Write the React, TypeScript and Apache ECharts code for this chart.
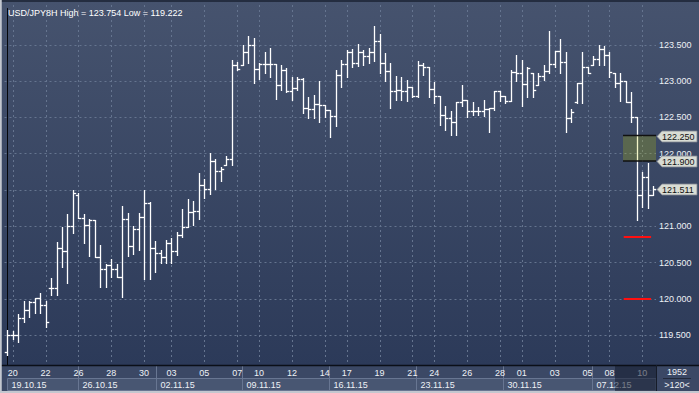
import React, { useEffect, useRef } from 'react';
import * as echarts from 'echarts';

// ---- data ----
const symbolName = 'USD/JPY8H';
const opens = [
  119.269, 119.503, 119.503, 119.733, 119.847, 119.961, 120.016, 119.916, 120.146, 120.146,
  120.697, 120.660, 121.004, 121.431, 121.110, 121.018, 121.087, 120.573, 120.416, 120.467,
  120.408, 120.306, 121.096, 120.729, 120.959, 121.124, 121.317, 120.697, 120.636, 120.581,
  120.766, 120.664, 120.880, 120.986, 121.193, 121.211, 121.569, 121.514, 121.899, 121.762,
  121.844, 121.927, 123.222, 123.222, 123.397, 123.497, 123.163, 123.240, 123.240, 123.240,
  122.942, 123.149, 122.864, 122.901, 123.025, 122.625, 122.612, 122.680, 122.667, 122.602,
  122.519, 123.080, 123.231, 123.401, 123.245, 123.405, 123.346, 123.405, 123.556, 123.253,
  123.139, 122.864, 122.877, 122.864, 122.915, 122.795, 123.222, 123.198, 122.891, 122.795,
  122.533, 122.488, 122.437, 122.716, 122.740, 122.588, 122.588, 122.588, 122.612, 122.625,
  122.864, 122.795, 122.730, 123.130, 123.116, 122.956, 123.107, 122.946, 123.070, 123.143,
  123.231, 123.415, 123.259, 122.488, 122.712, 122.978, 123.190, 123.222, 123.300, 123.438,
  123.359, 123.107, 122.967, 123.005, 122.708, 122.501, 121.431, 121.675, 121.431,
];
const highs = [
  119.572, 119.562, 119.792, 119.975, 119.975, 120.016, 120.085, 119.975, 120.284, 120.784,
  120.986, 121.165, 121.500, 121.455, 121.170, 121.096, 121.087, 120.738, 120.481, 120.545,
  120.481, 121.280, 121.187, 121.004, 121.179, 121.500, 121.335, 120.793, 120.674, 120.811,
  120.835, 120.926, 121.234, 121.380, 121.353, 121.730, 121.647, 122.014, 121.923, 121.813,
  121.972, 123.291, 123.267, 123.497, 123.621, 123.589, 123.253, 123.397, 123.452, 123.240,
  123.222, 123.176, 123.061, 123.061, 123.039, 122.785, 122.809, 123.001, 122.671, 122.602,
  123.153, 123.291, 123.428, 123.438, 123.511, 123.428, 123.452, 123.754, 123.649, 123.383,
  123.245, 123.070, 123.061, 123.015, 122.923, 123.277, 123.245, 123.198, 122.992, 122.795,
  122.657, 122.592, 122.716, 122.946, 122.740, 122.716, 122.639, 122.740, 122.634, 122.868,
  122.868, 122.795, 123.153, 123.359, 123.291, 123.198, 123.107, 123.107, 123.222, 123.690,
  123.415, 123.580, 123.405, 122.612, 122.978, 123.397, 123.198, 123.346, 123.497, 123.483,
  123.405, 123.107, 123.107, 123.005, 122.846, 122.501, 121.752, 121.876, 121.555,
];
const lows = [
  119.222, 119.443, 119.410, 119.686, 119.755, 119.810, 119.810, 119.617, 120.054, 120.054,
  120.443, 120.223, 120.904, 121.110, 120.774, 120.591, 120.573, 120.160, 120.168, 120.306,
  120.306, 120.022, 120.591, 120.618, 120.674, 120.270, 120.278, 120.375, 120.499, 120.499,
  120.499, 120.605, 120.857, 120.986, 121.018, 121.096, 121.394, 121.441, 121.514, 121.628,
  121.844, 121.844, 123.153, 123.222, 123.245, 122.978, 123.025, 123.107, 123.061, 122.749,
  122.877, 122.854, 122.740, 122.877, 122.565, 122.496, 122.488, 122.441, 122.510, 122.234,
  122.382, 122.923, 123.061, 123.190, 123.208, 123.222, 123.245, 123.281, 123.107, 123.005,
  122.625, 122.740, 122.740, 122.730, 122.781, 122.785, 123.084, 122.785, 122.694, 122.395,
  122.326, 122.258, 122.258, 122.657, 122.510, 122.533, 122.533, 122.519, 122.303, 122.602,
  122.730, 122.694, 122.730, 123.005, 122.657, 122.785, 122.777, 122.946, 123.015, 123.107,
  123.198, 123.107, 122.303, 122.441, 122.702, 122.702, 123.107, 123.222, 123.222, 123.222,
  123.056, 122.912, 122.726, 122.708, 122.441, 121.087, 121.270, 121.248, 121.431,
];
const closes = [
  119.503, 119.503, 119.733, 119.847, 119.961, 120.016, 119.916, 119.678, 120.146, 120.697,
  120.660, 121.004, 121.455, 121.110, 121.018, 121.087, 120.573, 120.416, 120.467, 120.408,
  120.306, 121.096, 120.729, 120.959, 121.124, 121.317, 120.697, 120.636, 120.581, 120.766,
  120.664, 120.880, 120.986, 121.193, 121.211, 121.569, 121.514, 121.899, 121.762, 121.789,
  121.927, 123.222, 123.163, 123.397, 123.497, 123.163, 123.240, 123.240, 123.240, 122.942,
  123.149, 122.864, 122.901, 123.025, 122.625, 122.612, 122.680, 122.667, 122.602, 122.519,
  123.080, 123.231, 123.401, 123.245, 123.405, 123.346, 123.405, 123.556, 123.253, 123.139,
  122.864, 122.877, 122.864, 122.915, 122.795, 123.222, 123.198, 122.891, 122.795, 122.533,
  122.488, 122.437, 122.716, 122.740, 122.588, 122.588, 122.588, 122.612, 122.625, 122.864,
  122.795, 122.730, 123.130, 123.116, 122.956, 123.185, 122.877, 123.070, 123.143, 123.231,
  123.415, 123.259, 122.488, 122.579, 122.978, 123.190, 123.116, 123.300, 123.438, 123.359,
  123.132, 122.967, 123.005, 122.708, 122.501, 121.431, 121.675, 121.431, 121.511,
];

// day ticks on the time axis (bar index -> day label)
const dayTickIndex = [1, 7, 13, 19, 25, 30, 36, 42, 46, 52, 58, 62, 68, 74, 78, 84, 90, 94, 100, 106, 110, 116];
const dayTickText = ['20', '22', '26', '28', '30', '03', '05', '07', '10', '12', '14', '17', '19', '21', '24', '26', '28', '01', '03', '05', '08', '10'];
// weeks (position on the bar axis where each week starts)
const weekStarts = [0, 12.9, 27.2, 42.9, 58.8, 74.7, 90.5, 106.8];
const weekLabels = ['19.10.15', '26.10.15', '02.11.15', '09.11.15', '16.11.15', '23.11.15', '30.11.15', '07.12.15'];
// price zone and levels
const zoneLevels = [122.25, 121.9];
const zoneStart = 112.5;
const redLevels = [120.85, 120.0];
const redSpan = [112.6, 117.6];
const sessionStart = 111;
const barCountText = '1952';
const rangeText = '>120<';
// price axis
const yMin = 119;
const yMax = 124;
const yStep = 0.5;

const FONT = '"Liberation Sans", Arial, sans-serif';
const TXT = '#eef1f6';
const GRIDC = '#65748f';
const BAR = '#ffffff';

export default function App() {
  const ref = useRef<HTMLDivElement>(null);
  useEffect(() => {
    const chart = echarts.init(ref.current!, null, { renderer: 'svg' });
    const n = opens.length;
    const ohlc = opens.map((o, i) => [i, o, highs[i], lows[i], closes[i]]);
    const hi = Math.max(...highs);
    const lo = Math.min(...lows);
    const last = closes[n - 1];
    const cats = Array.from({ length: n }, () => '');
    dayTickIndex.forEach((k, j) => { cats[k] = dayTickText[j]; });
    const tagLevels = [...zoneLevels, last];

    const option: any = {
      animation: false,
      textStyle: { fontFamily: FONT },
      backgroundColor: {
        type: 'linear', x: 0, y: 0, x2: 0, y2: 1,
        colorStops: [
          { offset: 0, color: '#46536e' },
          { offset: 0.93, color: '#2c3a59' },
          { offset: 1, color: '#2c3a59' },
        ],
      },
      title: {
        text: `${symbolName} High = ${hi.toFixed(3)} Low = ${lo.toFixed(3)}`,
        left: 3, top: 3,
        textStyle: { color: '#ffffff', fontSize: 9, fontWeight: 'normal', fontFamily: FONT },
      },
      grid: [
        { left: 4.5, right: 43, top: 8.5, height: 363, containLabel: false, outerBoundsMode: 'none' },
        { left: 4.5, right: 43, top: 365, height: 28, containLabel: false, outerBoundsMode: 'none', z: 5 },
      ],
      xAxis: [
        { type: 'value', gridIndex: 0, min: -0.5, max: n - 0.5, show: false },
        {
          type: 'category', gridIndex: 1, data: cats, position: 'top', boundaryGap: true, z: 7,
          axisLine: { show: false }, axisTick: { show: false }, splitLine: { show: false },
          axisLabel: { inside: true, interval: 0, margin: 3, color: TXT, fontSize: 9, fontFamily: FONT },
        },
        { type: 'value', gridIndex: 1, min: -0.5, max: n - 0.5, show: false },
      ],
      yAxis: [
        {
          type: 'value', gridIndex: 0, position: 'right', min: yMin, max: yMax, interval: yStep,
          axisLine: { show: true, lineStyle: { color: '#05070b', width: 1 } },
          axisTick: { show: false },
          axisLabel: {
            color: TXT, fontSize: 9, fontFamily: FONT, margin: 3,
            showMinLabel: false, showMaxLabel: false,
            // labels fully hidden behind a price tag are not drawn
            formatter: (v: number) => (tagLevels.some((t) => Math.abs(t - v) < 0.05) ? '' : v.toFixed(3)),
          },
          splitLine: { show: true, showMinLine: false, showMaxLine: false, lineStyle: { color: GRIDC, width: 1, type: [2, 3] } },
        },
        { type: 'value', gridIndex: 1, min: 0, max: 1, show: false },
      ],
      graphic: [
        { type: 'line', shape: { x1: 0, y1: 1, x2: 699, y2: 1 }, style: { stroke: '#242d40', lineWidth: 2 }, z: 10, silent: true },
        { type: 'rect', shape: { x: 0, y: 365, width: 699, height: 28 }, style: { fill: '#3b4865' }, z: 5, silent: true },
        { type: 'line', shape: { x1: 0, y1: 365.5, x2: 699, y2: 365.5 }, style: { stroke: '#0b0f18', lineWidth: 1.5 }, z: 9 },
        { type: 'line', shape: { x1: 656.5, y1: 365, x2: 656.5, y2: 393 }, style: { stroke: '#161c29', lineWidth: 1 }, z: 9 },
        { type: 'text', x: 677, y: 371.5, style: { text: barCountText, fill: TXT, font: `9px ${FONT}`, align: 'center', verticalAlign: 'middle' }, z: 9 },
        { type: 'line', shape: { x1: 663, y1: 378.5, x2: 691, y2: 378.5 }, style: { stroke: '#222a3b', lineWidth: 1 }, z: 9 },
        { type: 'text', x: 677, y: 384.5, style: { text: rangeText, fill: TXT, font: `9px ${FONT}`, align: 'center', verticalAlign: 'middle' }, z: 9 },
        { type: 'polyline', shape: { points: [[0.75, 0], [0.75, 392], [699, 392]] }, style: { stroke: '#c3c7cf', fill: null, lineWidth: 2 }, z: 10, silent: true },
      ],
      series: [
        {
          type: 'custom', name: 'dayGrid', xAxisIndex: 0, yAxisIndex: 0, z: 1, silent: true,
          data: dayTickIndex.map((k) => [k, yMin]), encode: { x: 0, y: 1 },
          renderItem: (params: any, api: any) => {
            const p = api.coord([api.value(0), api.value(1)]);
            const x = Math.round(p[0]) + 0.5;
            return { type: 'line', shape: { x1: x, y1: 0, x2: x, y2: p[1] }, style: { stroke: GRIDC, lineWidth: 1, lineDash: [2, 3] } };
          },
        },
        {
          type: 'custom', name: 'USDJPY', xAxisIndex: 0, yAxisIndex: 0, z: 2,
          data: ohlc, encode: { x: 0, y: [1, 2, 3, 4] },
          renderItem: (params: any, api: any) => {
            const i = api.value(0);
            const pO = api.coord([i, api.value(1)]);
            const pH = api.coord([i, api.value(2)]);
            const pL = api.coord([i, api.value(3)]);
            const pC = api.coord([i, api.value(4)]);
            const half = api.size([1, 0])[0] / 2;
            const x = Math.round(pO[0]) + 0.5;
            const st = { stroke: BAR, lineWidth: 1.3 };
            const yo = Math.round(pO[1]) + 0.5;
            const yc = Math.round(pC[1]) + 0.5;
            return {
              type: 'group',
              children: [
                { type: 'line', shape: { x1: x, y1: Math.round(pH[1]), x2: x, y2: Math.round(pL[1]) + 1 }, style: st },
                { type: 'line', shape: { x1: x - half, y1: yo, x2: x, y2: yo }, style: st },
                { type: 'line', shape: { x1: x, y1: yc, x2: x + half, y2: yc }, style: st },
              ],
            };
          },
        },
        {
          type: 'custom', name: 'zone', xAxisIndex: 0, yAxisIndex: 0, z: 3, silent: true,
          data: [[zoneStart, zoneLevels[0], zoneLevels[1]]], encode: { x: 0, y: [1, 2] },
          renderItem: (params: any, api: any) => {
            const cs = params.coordSys;
            const a = api.coord([api.value(0), api.value(1)]);
            const b = api.coord([api.value(0), api.value(2)]);
            const right = cs.x + cs.width;
            const x0 = Math.round(a[0]);
            return {
              type: 'group',
              children: [
                { type: 'rect', shape: { x: x0, y: a[1], width: right - x0, height: b[1] - a[1] }, style: { fill: 'rgba(200,210,0,0.22)' } },
                { type: 'line', shape: { x1: x0, y1: a[1], x2: right, y2: a[1] }, style: { stroke: '#111', lineWidth: 1.5 } },
                { type: 'line', shape: { x1: x0, y1: b[1], x2: right, y2: b[1] }, style: { stroke: '#111', lineWidth: 1.5 } },
              ],
            };
          },
        },
        {
          type: 'custom', name: 'levels', xAxisIndex: 0, yAxisIndex: 0, z: 4, silent: true,
          data: redLevels.map((v) => [redSpan[0], redSpan[1], v]), encode: { x: [0, 1], y: 2 },
          renderItem: (params: any, api: any) => {
            const a = api.coord([api.value(0), api.value(2)]);
            const b = api.coord([api.value(1), api.value(2)]);
            const y = Math.round(a[1]);
            return { type: 'line', shape: { x1: a[0], y1: y, x2: b[0], y2: y }, style: { stroke: '#ff1010', lineWidth: 2 } };
          },
        },
        {
          type: 'custom', name: 'tags', xAxisIndex: 0, yAxisIndex: 0, z: 9, silent: true,
          data: tagLevels.map((v) => [n - 0.5, v]), encode: { x: 0, y: 1 },
          renderItem: (params: any, api: any) => {
            const p = api.coord([api.value(0), api.value(1)]);
            const x = p[0] + 1;
            const y = Math.round(p[1]) + 0.5;
            return {
              type: 'group',
              children: [
                { type: 'polygon', shape: { points: [[x, y], [x + 5, y - 5.5], [x + 40, y - 5.5], [x + 40, y + 5.5], [x + 5, y + 5.5]] }, style: { fill: '#d9dcd4', stroke: '#7d838f', lineWidth: 0.8 } },
                { type: 'text', style: { text: api.value(1).toFixed(3), x: x + 5, y: y + 0.5, fill: '#111', font: `9px ${FONT}`, verticalAlign: 'middle', align: 'left' } },
              ],
            };
          },
        },
        {
          type: 'custom', name: 'weeks', xAxisIndex: 2, yAxisIndex: 1, z: 6, silent: true,
          data: weekStarts.map((s, i) => [s, 0, i]), encode: { x: 0, y: 1 },
          renderItem: (params: any, api: any) => {
            const cs = params.coordSys;
            const i = api.value(2);
            const x0 = Math.round(api.coord([api.value(0), 0])[0]) + 0.5;
            const x1 = i < weekStarts.length - 1 ? Math.round(api.coord([weekStarts[i + 1], 0])[0]) + 0.5 : cs.x + cs.width;
            const top = cs.y;
            const children: any[] = [
              { type: 'rect', shape: { x: x0, y: top + 13.5, width: x1 - x0, height: 12 }, style: { fill: '#485672', stroke: '#687692', lineWidth: 1 } },
              { type: 'text', style: { text: weekLabels[i], x: x0 + 4, y: top + 20, fill: TXT, font: `9px ${FONT}`, verticalAlign: 'middle', align: 'left' } },
            ];
            if (i > 0) children.push({ type: 'line', shape: { x1: x0, y1: top + 1, x2: x0, y2: top + 26 }, style: { stroke: '#687692', lineWidth: 1 } });
            return { type: 'group', children };
          },
        },
        {
          type: 'custom', name: 'session', xAxisIndex: 2, yAxisIndex: 1, z: 8, silent: true,
          data: [[sessionStart, 0]], encode: { x: 0, y: 1 },
          renderItem: (params: any, api: any) => {
            const cs = params.coordSys;
            const x0 = Math.round(api.coord([api.value(0), 0])[0]);
            return { type: 'rect', shape: { x: x0, y: cs.y + 1, width: cs.x + cs.width - x0, height: 25 }, style: { fill: 'rgba(20,28,46,0.55)' } };
          },
        },
      ],
    };
    chart.setOption(option);
    return () => chart.dispose();
  }, []);
  return <div ref={ref} style={{ position: 'fixed', left: 0, top: 0, width: 699, height: 393 }} />;
}
